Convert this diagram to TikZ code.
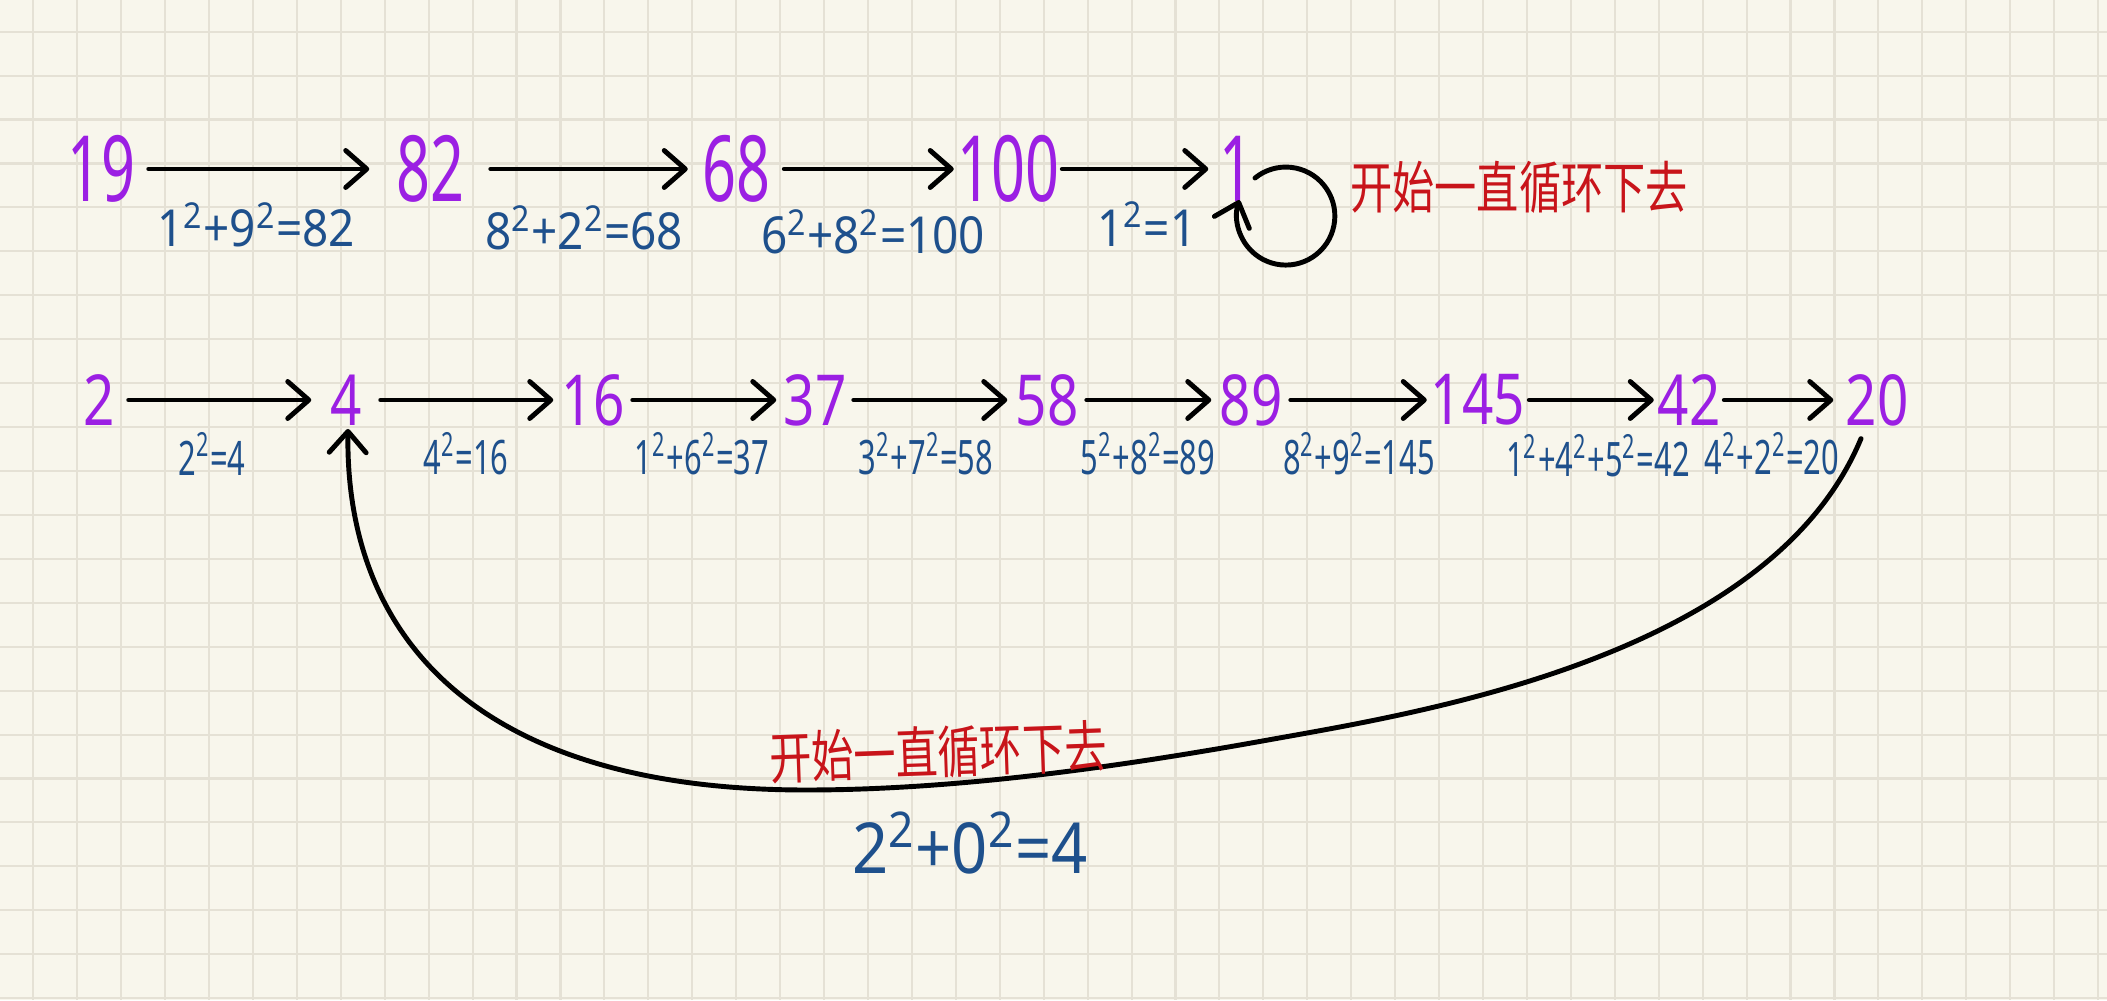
\documentclass[tikz,border=0pt]{standalone}
\usepackage{fontspec}
\setmainfont{Noto Sans}
\newfontfamily\numA[FakeStretch=0.65]{Noto Sans}
\newfontfamily\numB[FakeStretch=0.78]{Noto Sans}
\newfontfamily\lblA[FakeStretch=0.9]{Noto Sans}
\newfontfamily\lblB[FakeStretch=0.65]{Noto Sans}
\newfontfamily\cjk[FakeStretch=0.75]{Noto Sans CJK SC}
\usetikzlibrary{arrows.meta}
\definecolor{paper}{HTML}{F8F6EC}
\definecolor{gridc}{HTML}{E5E1D5}
\definecolor{numc}{HTML}{9B1FE3}
\definecolor{lblc}{HTML}{1E508C}
\definecolor{notec}{HTML}{C8141A}
\newcommand{\supsq}{\textsuperscript{2}}
\begin{document}
\begin{tikzpicture}[x=0.01cm,y=0.01cm,
  gridln/.style={draw=gridc, line width=0.6pt},
  numa/.style={text=numc, font=\numA\fontsize{26}{28}\selectfont, inner sep=0pt},
  numb/.style={text=numc, font=\numB\fontsize{20}{22}\selectfont, inner sep=0pt},
  lbla/.style={text=lblc, font=\lblA\fontsize{14.5}{16}\selectfont, inner sep=0pt},
  lblb/.style={text=lblc, font=\lblB\fontsize{13.5}{15}\selectfont, inner sep=0pt},
  note/.style={text=notec, font=\cjk\fontsize{16}{18}\selectfont, inner sep=0pt},
  arr/.style={draw=black, line width=1.4pt, line cap=round,
    -{Straight Barb[length=6pt,width=10.5pt,round]}},
]
% paper and grid
\fill[paper] (0,0) rectangle (2107,1000);
\useasboundingbox (0,0) rectangle (2107,1000);
\foreach \i in {0,...,47} \draw[gridln] ({33.3+\i*43.93},0) -- ({33.3+\i*43.93},1000);
\foreach \k in {0,...,22} \draw[gridln] (0,{1000-31.7-\k*43.93}) -- (2107,{1000-31.7-\k*43.93});

% row 1
\node[numa, minimum width=0.94cm] (n19) at (101,831) {19};
\node[numa, minimum width=1.20cm] (n82) at (430,831) {82};
\node[numa, minimum width=0.95cm] (n68) at (736,831) {68};
\node[numa, minimum width=1.07cm] (n100) at (1008,831) {100};
\node[numa, minimum width=0.54cm] (n1) at (1236,831) {1};
\draw[arr] (n19.east) -- (n82.west);
\draw[arr] (n82.east) -- (n68.west);
\draw[arr] (n68.east) -- (n100.west);
\draw[arr] (n100.east) -- (n1.west);
\draw[arr] ([shift={(19,-9)}]n1.center) arc[start angle=129, end angle=-199, radius=49];
\node[lbla] (l1) at (256,775) {1\supsq+9\supsq=82};
\node[lbla] (l2) at (584,772) {8\supsq+2\supsq=68};
\node[lbla] (l3) at (873,768) {6\supsq+8\supsq=100};
\node[lbla] (l4) at (1147,776) {1\supsq=1};
\node[note] (t1) at (1519,813) {开始一直循环下去};

% row 2
\node[numb, minimum width=0.58cm] (n2) at (99,600) {2};
\node[numb, minimum width=0.68cm] (n4) at (346,600) {4};
\node[numb, minimum width=0.78cm] (n16) at (593,600) {16};
\node[numb, minimum width=0.76cm] (n37) at (815,600) {37};
\node[numb, minimum width=0.78cm] (n58) at (1047,600) {58};
\node[numb, minimum width=0.78cm] (n89) at (1251,600) {89};
\node[numb, minimum width=1.01cm] (n145) at (1478,600) {145};
\node[numb, minimum width=0.69cm] (n42) at (1689,600) {42};
\node[numb, minimum width=0.86cm] (n20) at (1877,600) {20};
\draw[arr] (n2.east) -- (n4.west);
\draw[arr] (n4.east) -- (n16.west);
\draw[arr] (n16.east) -- (n37.west);
\draw[arr] (n37.east) -- (n58.west);
\draw[arr] (n58.east) -- (n89.west);
\draw[arr] (n89.east) -- (n145.west);
\draw[arr] (n145.east) -- (n42.west);
\draw[arr] (n42.east) -- (n20.west);
\node[lblb] (m1) at (212,546) {2\supsq=4};
\node[lblb] (m2) at (466,546) {4\supsq=16};
\node[lblb] (m3) at (702,546) {1\supsq+6\supsq=37};
\node[lblb] (m4) at (926,546) {3\supsq+7\supsq=58};
\node[lblb] (m5) at (1148,546) {5\supsq+8\supsq=89};
\node[lblb] (m6) at (1359,546) {8\supsq+9\supsq=145};
\node[lblb] (m7) at (1598,544) {1\supsq+4\supsq+5\supsq=42};
\node[lblb] (m8) at (1772,546) {4\supsq+2\supsq=20};

% return curve 20 -> 4
\draw[arr] ([shift={(-16,-12)}]n20.south)
  .. controls (1770,342) and (1418,287) .. (1268,260)
  .. controls (1118,233) and (956,210) .. (806,210)
  .. controls (480,210) and (345,360) .. ([shift={(2,-3)}]n4.south);
\node[note, rotate=2] (t2) at (938,248) {开始一直循环下去};
\node[text=lblc, font=\lblA\fontsize{20}{22}\selectfont, inner sep=0pt] (f1) at (970,157) {2\supsq+0\supsq=4};
\end{tikzpicture}
\end{document}
